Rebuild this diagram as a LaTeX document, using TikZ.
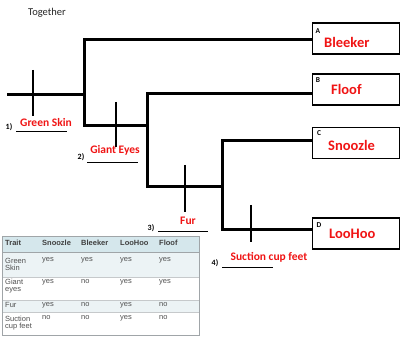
\documentclass[tikz,border=0pt]{standalone}
\usepackage{fontspec}
\setmainfont{Carlito}
\newfontfamily\tabfont{Liberation Sans}
\definecolor{lbred}{RGB}{240,20,20}
\definecolor{hdrblue}{RGB}{213,231,236}
\definecolor{rowblue}{RGB}{236,243,245}
\definecolor{tabgray}{RGB}{80,80,80}
\definecolor{bordgray}{RGB}{160,165,168}
\begin{document}
\begin{tikzpicture}[x=1pt,y=-1pt,
  branch/.style={line width=3pt},
  tickline/.style={line width=2pt},
  taxon/.style={draw,line width=1.3pt,minimum width=87pt,minimum height=31pt,anchor=north west,inner sep=0pt},
  letter/.style={font=\fontsize{7.5}{8}\selectfont\bfseries,anchor=center,inner sep=0pt},
  tname/.style={font=\fontsize{14.5}{16}\selectfont\bfseries,text=lbred,anchor=west,inner sep=0pt},
  trait/.style={font=\fontsize{11.5}{13}\selectfont\bfseries,text=lbred,anchor=center,inner sep=0pt},
  num/.style={font=\fontsize{8}{9}\selectfont\bfseries,anchor=center,inner sep=0pt},
  uline/.style={line width=0.7pt},
  tcell/.style={font=\tabfont\fontsize{7.5}{8.5}\selectfont,text=tabgray,anchor=west,inner sep=0pt,align=left},
  thead/.style={font=\tabfont\fontsize{7.5}{8.5}\selectfont\bfseries,text=black!75,anchor=west,inner sep=0pt}
]
\useasboundingbox (0,0) rectangle (400,337);
\fill[white] (0,0) rectangle (400,337);

\node[font=\fontsize{10.5}{12}\selectfont,text=black!85,anchor=center,inner sep=0pt] (title) at (47,13) {Together};

% boxes
\node[taxon] (A) at (312,22.5) {};
\node[taxon] (B) at (312,73.5) {};
\node[taxon] (C) at (312,127) {};
\node[taxon] (D) at (312,217.5) {};
\node[letter] (la) at (318,31) {A};
\node[letter] (lb) at (318,80) {B};
\node[letter] (lc) at (319,133) {C};
\node[letter] (ld) at (319,225) {D};
\node[tname] (na) at (324,42) {Bleeker};
\node[tname] (nb) at (331,89) {Floof};
\node[tname] (nc) at (328,145) {Snoozle};
\node[tname] (nd) at (329,234) {LooHoo};

% tree
\coordinate (root) at (7,95);
\coordinate (j1t) at (84,40);
\coordinate (j1m) at (84,95);
\coordinate (j1b) at (84,126);
\coordinate (j2t) at (147,94);
\coordinate (j2m) at (147,126);
\coordinate (j2b) at (147,187);
\coordinate (j3t) at (222,141);
\coordinate (j3m) at (222,187);
\coordinate (j3b) at (222,230);

\draw[branch] (root) -- (j1m);
\draw[branch] (j1t -| A.west) -- (j1t) -- (j1b) -- (j2m);
\draw[branch] (j2t -| B.west) -- (j2t) -- (j2b) -- (j3m);
\draw[branch] (j3t -| C.west) -- (j3t) -- (j3b) -- (j3b -| D.west);

% ticks
\coordinate (t1a) at (33,70); \coordinate (t1b) at (33,116);
\coordinate (t2a) at (116,102); \coordinate (t2b) at (116,147);
\coordinate (t3a) at (185,165); \coordinate (t3b) at (185,212);
\coordinate (t4a) at (251,205); \coordinate (t4b) at (251,242);
\draw[tickline] (t1a) -- (t1b);
\draw[tickline] (t2a) -- (t2b);
\draw[tickline] (t3a) -- (t3b);
\draw[tickline] (t4a) -- (t4b);

% trait labels
\node[num] (n1) at (9,127) {1)};
\coordinate (u1a) at (16,131); \coordinate (u1b) at (67,131);
\draw[uline] (u1a) -- (u1b);
\node[trait] (g1) at (46,123) {Green Skin};

\node[num] (n2) at (81,157) {2)};
\coordinate (u2a) at (87,162); \coordinate (u2b) at (138,162);
\draw[uline] (u2a) -- (u2b);
\node[trait] (g2) at (115,150) {Giant Eyes};

\node[num] (n3) at (151,228) {3)};
\coordinate (u3a) at (158,231); \coordinate (u3b) at (208,231);
\draw[uline] (u3a) -- (u3b);
\node[trait] (g3) at (188,221) {Fur};

\node[num] (n4) at (215,263) {4)};
\coordinate (u4a) at (222,267); \coordinate (u4b) at (273,267);
\draw[uline] (u4a) -- (u4b);
\node[trait] (g4) at (269,257) {Suction cup feet};

% table
\fill[hdrblue] (2,236) rectangle (199,252);
\fill[rowblue] (2,252) rectangle (199,277);
\fill[rowblue] (2,300) rectangle (199,312);
\draw[bordgray,line width=0.4pt] (2,252) -- (199,252);
\draw[bordgray!60,line width=0.3pt] (2,277) -- (199,277);
\draw[bordgray!60,line width=0.3pt] (2,300) -- (199,300);
\draw[bordgray!60,line width=0.3pt] (2,312) -- (199,312);
\draw[bordgray,line width=0.8pt] (2,236) rectangle (199,335);

\node[thead] (h0) at (5,243) {Trait};
\node[thead] (h1) at (42,243) {Snoozle};
\node[thead] (h2) at (81,243) {Bleeker};
\node[thead] (h3) at (120,243) {LooHoo};
\node[thead] (h4) at (159,243) {Floof};

\node[tcell] (r1) at (5,264) {Green\\[-1.5pt]Skin};
\node[tcell] (r1a) at (42,260) {yes};
\node[tcell] (r1b) at (81,260) {yes};
\node[tcell] (r1c) at (120,260) {yes};
\node[tcell] (r1d) at (159,260) {yes};

\node[tcell] (r2) at (5,286.5) {Giant\\[-1.5pt]eyes};
\node[tcell] (r2a) at (42,282) {yes};
\node[tcell] (r2b) at (81,282) {no};
\node[tcell] (r2c) at (120,282) {yes};
\node[tcell] (r2d) at (159,282) {yes};

\node[tcell] (r3) at (5,305) {Fur};
\node[tcell] (r3a) at (42,305) {yes};
\node[tcell] (r3b) at (81,305) {no};
\node[tcell] (r3c) at (120,305) {yes};
\node[tcell] (r3d) at (159,305) {no};

\node[tcell] (r4) at (5,323.5) {Suction\\[-1.5pt]cup feet};
\node[tcell] (r4a) at (42,318) {no};
\node[tcell] (r4b) at (81,318) {no};
\node[tcell] (r4c) at (120,318) {yes};
\node[tcell] (r4d) at (159,318) {no};
\end{tikzpicture}
\end{document}
